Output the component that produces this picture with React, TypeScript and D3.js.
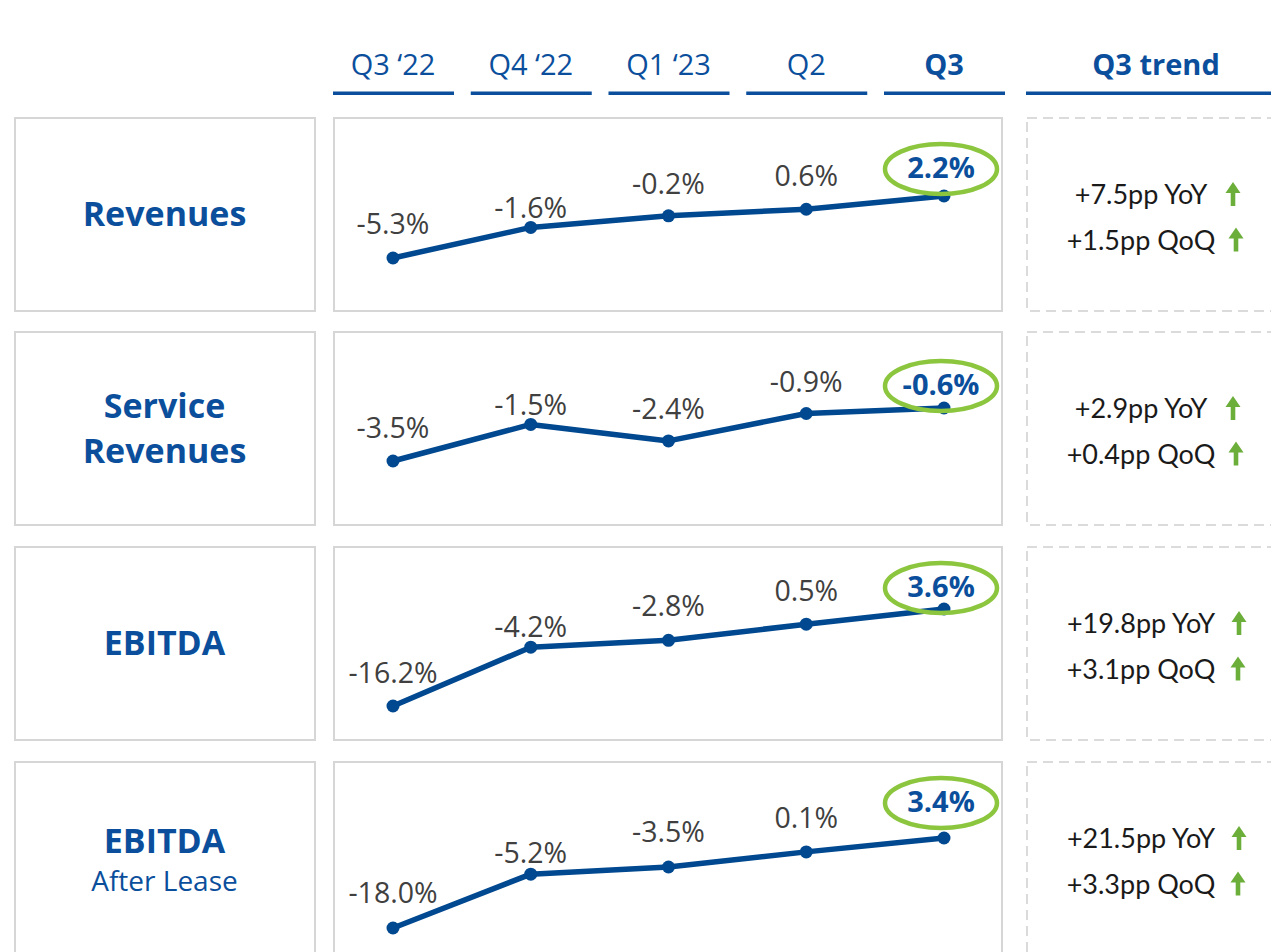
import React from "react";
import * as d3 from "d3";

const quarters = ["Q3 ‘22", "Q4 ‘22", "Q1 ‘23", "Q2", "Q3"];
const metricTitles = ["Revenues", "Service|Revenues", "EBITDA", "EBITDA"];
const metricSubtitles = ["", "", "", "After Lease"];
const revenues = [-5.3, -1.6, -0.2, 0.6, 2.2];
const serviceRevenues = [-3.5, -1.5, -2.4, -0.9, -0.6];
const ebitda = [-16.2, -4.2, -2.8, 0.5, 3.6];
const ebitdaAfterLease = [-18.0, -5.2, -3.5, 0.1, 3.4];
const yoyChange = [7.5, 2.9, 19.8, 21.5];
const qoqChange = [1.5, 0.4, 3.1, 3.3];

const series = [revenues, serviceRevenues, ebitda, ebitdaAfterLease];

// layout (px)
const rowTop = [118, 332, 547, 762];
const rowH = 193;
// local y for [min, max] of each row
const yRanges = [
  [140, 78],
  [129, 76],
  [159, 62],
  [166, 76],
];
// how far each value label sits above its point
const labelLift = [
  [34, 19, 32, 33, 28],
  [33, 19, 32, 31, 23],
  [33, 20, 34, 33, 22],
  [35, 21, 35, 34, 36],
];

const BLUE = "#0b4f9c";
const LINE_BLUE = "#00488f";
const GREEN = "#8cc63f";
const ARROW_GREEN = "#6cae3a";
const BOX = "#d6d6d6";

const fmtPct = (v: number) => `${v.toFixed(1)}%`;
const fmtPp = (v: number) => `+${v.toFixed(1)}pp`;

const x = d3.scalePoint<string>().domain(quarters).range([393, 944]);

const Arrow = ({ cx, cy }: { cx: number; cy: number }) => (
  <g transform={`translate(${cx},${cy})`} fill={ARROW_GREEN}>
    <rect x={-2.3} y={-4} width={4.6} height={16} />
    <path d="M0,-12 L7.5,-1 L-7.5,-1 Z" />
  </g>
);

export default function App() {
  return (
    <svg
      width={1271}
      height={952}
      style={{ position: "absolute", left: 0, top: 0, background: "#fff" }}
    >
      {/* column headers */}
      {quarters.map((q, i) => (
        <g key={q}>
          <text
            x={x(q)}
            y={75}
            textAnchor="middle"
            fontFamily="Open Sans, sans-serif"
            fontSize={29}
            fontWeight={i === quarters.length - 1 ? 700 : 400}
            fill={BLUE}
          >
            {q}
          </text>
          <rect x={(x(q) as number) - 60} y={91.5} width={121} height={3.5} fill={BLUE} />
        </g>
      ))}
      <text
        x={1156}
        y={75}
        textAnchor="middle"
        fontFamily="Open Sans, sans-serif"
        fontSize={29}
        fontWeight={700}
        fill={BLUE}
      >
        Q3 trend
      </text>
      <rect x={1026} y={91.5} width={260} height={3.5} fill={BLUE} />

      {series.map((vals, r) => {
        const top = rowTop[r];
        const ext = d3.extent(vals) as [number, number];
        const y = d3.scaleLinear().domain(ext).range(yRanges[r]);
        const line = d3
          .line<number>()
          .x((_, i) => x(quarters[i]) as number)
          .y((d) => y(d));
        const titleLines = metricTitles[r].split("|");
        const sub = metricSubtitles[r];
        const last = vals.length - 1;
        const lastLabelY = y(vals[last]) - labelLift[r][last];
        return (
          <g key={r} transform={`translate(0,${top})`}>
            {/* metric name box */}
            <rect x={15} y={0} width={300} height={rowH} fill="none" stroke={BOX} strokeWidth={2} />
            {titleLines.map((t, k) => {
              const cy = titleLines.length === 2 ? 74 + k * 45 : sub ? 79 : 96;
              return (
                <text
                  key={t}
                  x={164.5}
                  y={cy + 12}
                  textAnchor="middle"
                  fontFamily="Open Sans, sans-serif"
                  fontSize={34}
                  fontWeight={700}
                  fill={BLUE}
                >
                  {t}
                </text>
              );
            })}
            {sub && (
              <text
                x={164.5}
                y={119 + 10}
                textAnchor="middle"
                fontFamily="Open Sans, sans-serif"
                fontSize={28}
                fill={BLUE}
              >
                {sub}
              </text>
            )}

            {/* chart box */}
            <rect x={334} y={0} width={668} height={rowH} fill="none" stroke={BOX} strokeWidth={2} />
            <path d={line(vals) || ""} fill="none" stroke={LINE_BLUE} strokeWidth={5.5} strokeLinejoin="round" />
            {vals.map((v, i) => (
              <circle key={i} cx={x(quarters[i])} cy={y(v)} r={6.5} fill={LINE_BLUE} />
            ))}
            {vals.map((v, i) => {
              const isLast = i === last;
              const cy = y(v) - labelLift[r][i];
              return (
                <text
                  key={"l" + i}
                  x={(x(quarters[i]) as number) - (isLast ? 3 : 0)}
                  y={cy + 10}
                  textAnchor="middle"
                  fontFamily="Open Sans, sans-serif"
                  fontSize={isLast ? 29 : 28.5}
                  fontWeight={isLast ? 700 : 400}
                  fill={isLast ? BLUE : "#404040"}
                >
                  {fmtPct(v)}
                </text>
              );
            })}
            <ellipse
              cx={(x(quarters[last]) as number) - 3}
              cy={lastLabelY + 1}
              rx={56}
              ry={25}
              fill="none"
              stroke={GREEN}
              strokeWidth={4.5}
            />

            {/* trend box */}
            <rect
              x={1027}
              y={0}
              width={270}
              height={rowH}
              fill="none"
              stroke="#d0d0d0"
              strokeWidth={1.5}
              strokeDasharray="10,6"
            />
            <text
              x={1141}
              y={76 + 10}
              textAnchor="middle"
              fontFamily="Lato, sans-serif"
              fontSize={27}
              fill="#1a1a1a"
            >
              {`${fmtPp(yoyChange[r])} YoY`}
            </text>
            <text
              x={1141}
              y={121.5 + 10}
              textAnchor="middle"
              fontFamily="Lato, sans-serif"
              fontSize={27}
              fill="#1a1a1a"
            >
              {`${fmtPp(qoqChange[r])} QoQ`}
            </text>
            <Arrow cx={r < 2 ? 1233 : 1239} cy={76} />
            <Arrow cx={r < 2 ? 1236 : 1238} cy={121.5} />
          </g>
        );
      })}
    </svg>
  );
}
